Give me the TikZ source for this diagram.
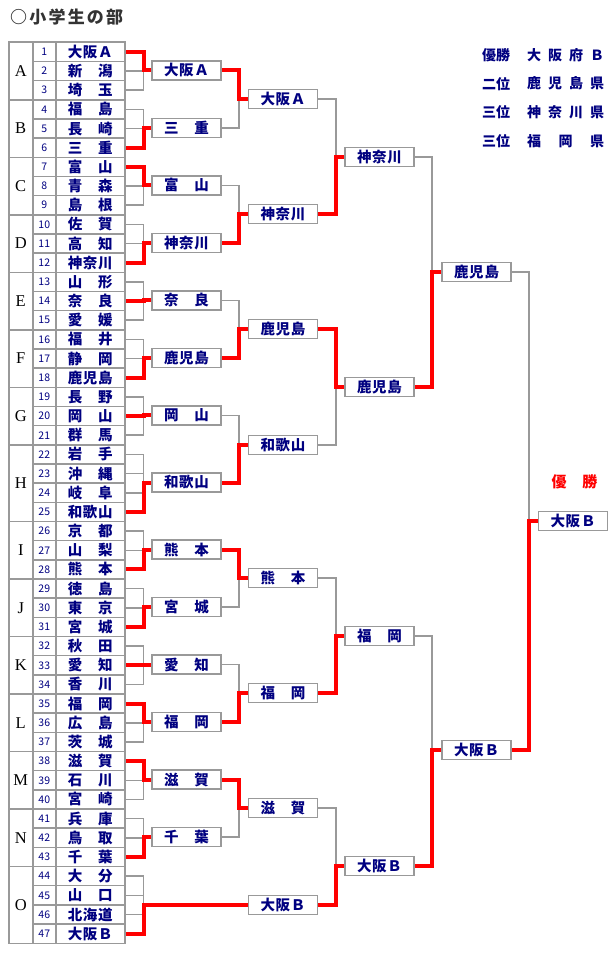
\documentclass[tikz,border=0pt]{standalone}
\usepackage{fontspec}
\setmainfont{Noto Sans CJK JP}
\newfontfamily\grpfont{Liberation Serif}
\usepackage{tikz}
\usetikzlibrary{positioning,backgrounds,calc}
\definecolor{navy}{HTML}{000080}
\definecolor{linegray}{HTML}{999999}
\definecolor{titlegray}{HTML}{333333}
% spread a name over the cell width
\newcommand{\nm}[3]{\makebox[45pt][s]{#1\hfill#2\hfill#3}}

\begin{document}
\begin{tikzpicture}[x=1pt,y=-1pt,
cell/.style={draw=linegray,line width=1.5pt,minimum height=19.17pt,inner sep=0pt,anchor=north west},
grp/.style={cell,minimum width=24pt,font=\grpfont\fontsize{16.5}{16}\selectfont},
num/.style={cell,minimum width=23pt,text=navy,font=\fontsize{10.5}{10}\selectfont},
team/.style={cell,minimum width=69pt,text=navy,font=\bfseries\fontsize{14.5}{15}\selectfont},
box/.style={draw=linegray,line width=1.5pt,fill=white,minimum width=69pt,minimum height=19pt,inner sep=0pt,text=navy,font=\bfseries\fontsize{14.5}{15}\selectfont},
lose/.style={draw=linegray,line width=1.5pt},
win/.style={draw=red,line width=4pt},
legend/.style={text=navy,font=\bfseries\fontsize{14}{15}\selectfont,inner sep=0pt}]
\useasboundingbox (0,0) rectangle (610,960);
\node[text=titlegray,font=\bfseries\fontsize{17}{18}\selectfont,anchor=west,inner sep=0pt](title) at (10,17){\makebox[113pt][s]{○\hfill 小\hfill 学\hfill 生\hfill の\hfill 部}};
% table
\foreach \a/\b/\c [count=\i] in {大/阪/Ａ,新//潟,埼//玉,福//島,長//崎,三//重,富//山,青//森,島//根,佐//賀,高//知,神/奈/川,山//形,奈//良,愛//媛,福//井,静//岡,鹿/児/島,長//野,岡//山,群//馬,岩//手,沖//縄,岐//阜,和/歌/山,京//都,山//梨,熊//本,徳//島,東//京,宮//城,秋//田,愛//知,香//川,福//岡,広//島,茨//城,滋//賀,石//川,宮//崎,兵//庫,鳥//取,千//葉,大//分,山//口,北/海/道,大/阪/Ｂ}{
  \node[num](n\i) at (32,{41.5+(\i-1)*19.17}){\i};
  \node[team](t\i) at (55,{41.5+(\i-1)*19.17}){\nm{\a}{\b}{\c}};
}
\foreach \g/\s/\n in {A/1/3,B/4/3,C/7/3,D/10/3,E/13/3,F/16/3,G/19/3,H/22/4,I/26/3,J/29/3,K/32/3,L/35/3,M/38/3,N/41/3,O/44/4}
  \node[grp,minimum height={\n*19.17pt}](g\g) at (8,{41.5+(\s-1)*19.17}){\g};
% first round
\node[box](a1) at (186.5,70.3){\nm{大}{阪}{Ａ}};
\node[box](a2) at (186.5,127.8){\nm{三}{}{重}};
\node[box](a3) at (186.5,185.3){\nm{富}{}{山}};
\node[box](a4) at (186.5,242.8){\nm{神}{奈}{川}};
\node[box](a5) at (186.5,300.4){\nm{奈}{}{良}};
\node[box](a6) at (186.5,357.9){\nm{鹿}{児}{島}};
\node[box](a7) at (186.5,415.4){\nm{岡}{}{山}};
\node[box](a8) at (186.5,482.5){\nm{和}{歌}{山}};
\node[box](a9) at (186.5,549.6){\nm{熊}{}{本}};
\node[box](a10) at (186.5,607.1){\nm{宮}{}{城}};
\node[box](a11) at (186.5,664.6){\nm{愛}{}{知}};
\node[box](a12) at (186.5,722.1){\nm{福}{}{岡}};
\node[box](a13) at (186.5,779.6){\nm{滋}{}{賀}};
\node[box](a14) at (186.5,837.2){\nm{千}{}{葉}};
% second round
\node[box](b1) at (283,99){\nm{大}{阪}{Ａ}};
\node[box](b2) at (283,214){\nm{神}{奈}{川}};
\node[box](b3) at (283,329){\nm{鹿}{児}{島}};
\node[box](b4) at (283,445){\nm{和}{歌}{山}};
\node[box](b5) at (283,578){\nm{熊}{}{本}};
\node[box](b6) at (283,693){\nm{福}{}{岡}};
\node[box](b7) at (283,808){\nm{滋}{}{賀}};
\node[box](b8) at (283,905){\nm{大}{阪}{Ｂ}};
% third round, semi, final
\node[box](c1) at (379.5,157){\nm{神}{奈}{川}};
\node[box](c2) at (379.5,387){\nm{鹿}{児}{島}};
\node[box](c3) at (379.5,636){\nm{福}{}{岡}};
\node[box](c4) at (379.5,866){\nm{大}{阪}{Ｂ}};
\node[box](d1) at (476.5,272){\nm{鹿}{児}{島}};
\node[box](d2) at (476.5,750){\nm{大}{阪}{Ｂ}};
\node[box](f) at (573,521){\nm{大}{阪}{Ｂ}};
\node[text=red,font=\bfseries\fontsize{15}{15}\selectfont,inner sep=0pt](champ) at (574.5,482){\makebox[46pt][s]{優\hfill 勝}};
% results
\foreach \l/\r [count=\k] in {優勝/{大\hfill 阪\hfill 府\hfill Ｂ},二位/{鹿\hfill 児\hfill 島\hfill 県},三位/{神\hfill 奈\hfill 川\hfill 県},三位/{福\hfill 岡\hfill 県}}{
  \node[legend,anchor=west](rl\k) at (482,{55+(\k-1)*28.7}){\l};
  \node[legend,anchor=west](rr\k) at (527,{55+(\k-1)*28.7}){\makebox[77pt][s]{\r}};
}
\begin{scope}[on background layer]
\foreach \s/\e/\w/\b in {1/3/1/a1,4/6/6/a2,7/9/7/a3,10/12/12/a4,13/15/14/a5,16/18/18/a6,19/21/20/a7,22/25/25/a8,26/28/28/a9,29/31/31/a10,32/34/33/a11,35/37/35/a12,38/40/38/a13,41/43/43/a14,44/47/47/b8}{
  \foreach \i in {\s,...,\e}\draw[lose](t\i.east)--++(18,0)|-(\b.west);
  \draw[win](t\w.east)--++(18,0)|-(\b.west);
}
\foreach \p/\q/\w/\b in {a1/a2/a1/b1,a3/a4/a4/b2,a5/a6/a6/b3,a7/a8/a8/b4,a9/a10/a9/b5,a11/a12/a12/b6,a13/a14/a13/b7}{
  \draw[lose](\p.east)--++(17,0)|-(\b.west);\draw[lose](\q.east)--++(17,0)|-(\b.west);
  \draw[win](\w.east)--++(17,0)|-(\b.west);
}
\foreach \p/\q/\w/\b in {b1/b2/b2/c1,b3/b4/b3/c2,b5/b6/b6/c3,b7/b8/b8/c4}{
  \draw[lose](\p.east)--++(17.5,0)|-(\b.west);\draw[lose](\q.east)--++(17.5,0)|-(\b.west);
  \draw[win](\w.east)--++(17.5,0)|-(\b.west);
}
\foreach \p/\q/\w/\b in {c1/c2/c2/d1,c3/c4/c4/d2,d1/d2/d2/f}{
  \draw[lose](\p.east)--++(17,0)|-(\b.west);\draw[lose](\q.east)--++(17,0)|-(\b.west);
  \draw[win](\w.east)--++(17,0)|-(\b.west);
}
\end{scope}
\end{tikzpicture}
\end{document}
